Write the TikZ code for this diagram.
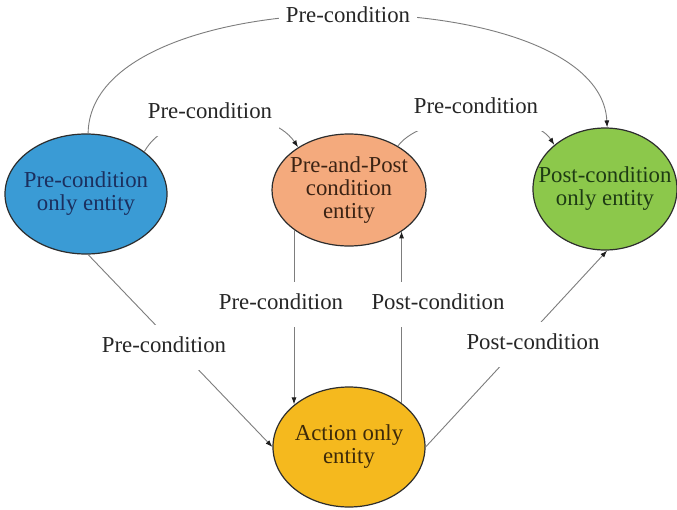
\documentclass[tikz,border=0pt]{standalone}
\usepackage{fontspec}
\setmainfont{Liberation Serif}
\usetikzlibrary{shapes.geometric,arrows.meta}

\definecolor{bluefill}{RGB}{58,155,213}
\definecolor{orangefill}{RGB}{244,170,125}
\definecolor{greenfill}{RGB}{140,200,75}
\definecolor{yellowfill}{RGB}{245,185,30}
\definecolor{bluetext}{RGB}{27,47,94}
\definecolor{orangetext}{RGB}{59,35,20}
\definecolor{greentext}{RGB}{30,59,20}
\definecolor{yellowtext}{RGB}{61,42,10}
\definecolor{rimclr}{RGB}{45,45,45}
\definecolor{linkgray}{RGB}{125,125,125}
\definecolor{tipclr}{RGB}{30,30,30}
\definecolor{lblclr}{RGB}{38,38,38}

\newcommand\diagfont{\fontsize{22.8}{23}\selectfont}

\begin{document}
\begin{tikzpicture}[x=1pt,y=-1pt,
  % negative inner sep keeps the ellipse at its minimum size
  entity/.style={ellipse,draw=rimclr,line width=1.2pt,inner sep=-24pt,
                 align=center,font=\diagfont},
  link/.style={draw=linkgray,line width=0.9pt},
  arr/.style={link,-{Latex[length=7pt,width=5pt,color=tipclr]}},
  lbl/.style={fill=white,text=lblclr,font=\diagfont,inner xsep=7pt,
              inner ysep=12pt,text height=16pt,text depth=5pt}]

  % canvas
  \fill[white] (0,0) rectangle (677,509);
  \useasboundingbox (0,0) rectangle (677,509);

  % entities
  \node[entity,fill=bluefill,text=bluetext,minimum width=162pt,minimum height=120pt]
    (blue) at (86,194) {Pre-condition\\only entity};
  \node[entity,fill=orangefill,text=orangetext,minimum width=154pt,minimum height=112pt]
    (orange) at (349,190) {Pre-and-Post\\condition\\entity};
  \node[entity,fill=greenfill,text=greentext,minimum width=144pt,minimum height=122pt]
    (green) at (605,189) {Post-condition\\only entity};
  \node[entity,fill=yellowfill,text=yellowtext,minimum width=152pt,minimum height=120pt]
    (yellow) at (349,447) {Action only\\entity};

  % connectors
  \draw[arr] (blue.88) .. controls (90,-25) and (600,-22) .. (green.88);
  \draw[arr] (blue.36) .. controls (170,105) and (270,105) .. (orange.140);
  \draw[arr] (orange.42) .. controls (425,110) and (532,110) .. (green.139);
  \draw[arr] (blue.-88) -- (yellow.west);
  \draw[arr] (orange.216) -- (orange.216 |- yellow.142);
  \draw[arr] (yellow.40) -- (yellow.40 |- orange.-38.5);
  \draw[arr] (yellow.east) -- (green.-88);

  % connector labels
  \node[lbl] (ltop) at (348,17)  {Pre-condition};
  \node[lbl] (lbo)  at (210,113) {Pre-condition};
  \node[lbl] (log)  at (476,108) {Pre-condition};
  \node[lbl] (loy)  at (281,304) {Pre-condition};
  \node[lbl] (lyo)  at (438,304) {Post-condition};
  \node[lbl] (lby)  at (164,347) {Pre-condition};
  \node[lbl] (lyg)  at (533,344) {Post-condition};
\end{tikzpicture}
\end{document}
